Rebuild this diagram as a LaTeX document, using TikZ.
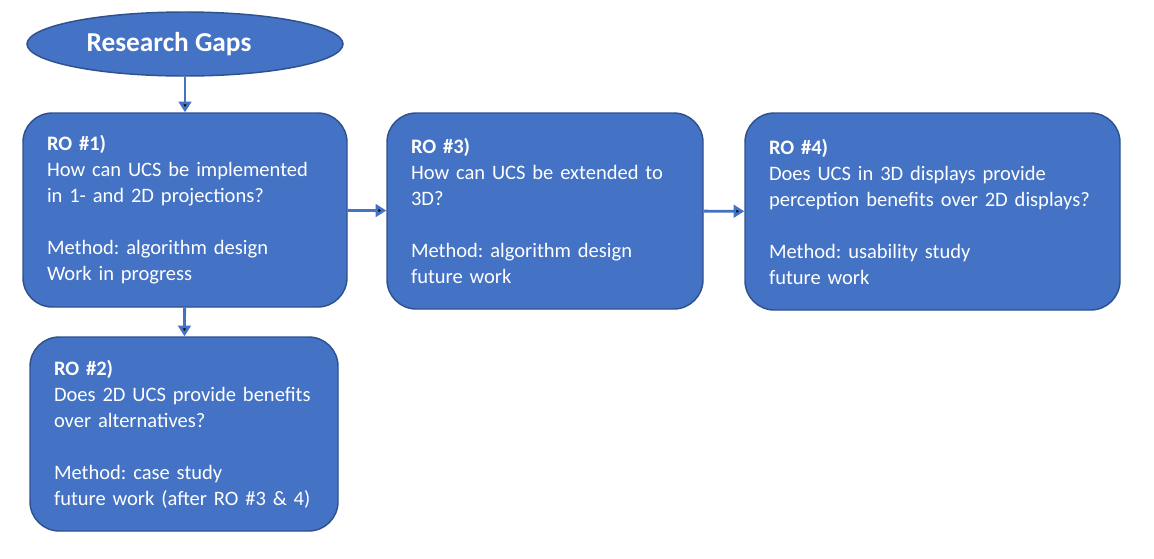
\documentclass[tikz,border=0pt]{standalone}
\usepackage{fontspec}
\setmainfont{Carlito}
\frenchspacing
\usetikzlibrary{shapes.geometric,arrows.meta}
\definecolor{rofill}{HTML}{4472C4}
\definecolor{roline}{HTML}{2F528F}
\tikzset{
  robox/.style={draw=roline, fill=rofill, line width=1.1pt, rounded corners=22pt,
    text=white, align=left, font=\fontsize{15.4}{19.5}\selectfont},
  roarrow/.style={draw=rofill, line width=2.2pt, -{Triangle[length=8pt,width=9.5pt]}}
}
\begin{document}
\begin{tikzpicture}[x=0.75pt, y=-0.75pt]
        \useasboundingbox (0,0) rectangle (1154,558);

        \node[ellipse, draw=roline, fill=rofill, line width=1.1pt, minimum width=237pt, minimum height=48pt] (gaps) at (185,44) {};
        \node[text=white, font=\fontsize{20.5}{24}\selectfont\bfseries] (gapstitle) at (169,44) {Research Gaps};

        \node[robox, minimum width=243pt, minimum height=145.5pt, text width=207pt] (ro1) at (185,210)
          {\textbf{RO \#1)}\\How can UCS be implemented\\in 1- and 2D projections?\\[19.5pt]Method: algorithm design\\Work in progress};
        \node[robox, minimum width=231pt, minimum height=145.5pt, text width=195pt] (ro2) at (184,434)
          {\textbf{RO \#2)}\\Does 2D UCS provide benefits\\over alternatives?\\[19.5pt]Method: case study\\future work (after RO \#3 \& 4)};
        \node[robox, minimum width=237pt, minimum height=147pt, text width=201pt] (ro3) at (545,211)
          {\textbf{RO \#3)}\\How can UCS be extended to\\3D?\\[19.5pt]Method: algorithm design\\future work};
        \node[robox, minimum width=281.25pt, minimum height=147.75pt, text width=245.25pt] (ro4) at (932.5,211.5)
          {\textbf{RO \#4)}\\Does UCS in 3D displays provide\\perception benefits over 2D displays?\\[19.5pt]Method: usability study\\future work};

        % research objectives flow
        \path [roarrow] (gaps) edge (ro1);
        \path [roarrow] (ro1) edge (ro2);
        \path [roarrow] (ro1) edge (ro3);
        \path [roarrow] (ro3) edge (ro4);
\end{tikzpicture}
\end{document}
